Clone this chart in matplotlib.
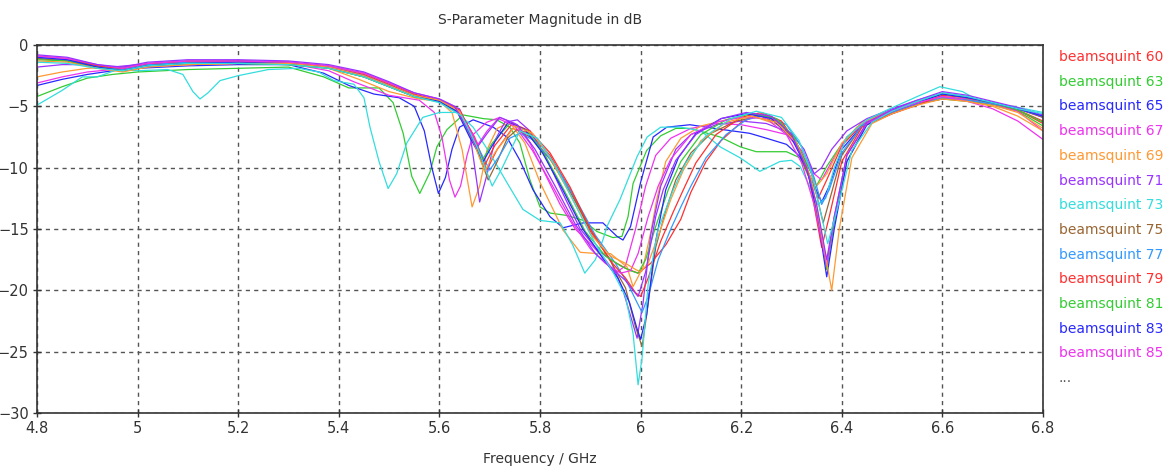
import matplotlib
matplotlib.use("Agg")
import matplotlib.pyplot as plt

# CST style colour cycle
RED, GREEN, BLUE, MAGENTA = '#ff3030', '#33cc33', '#2828ff', '#ee33ee'
ORANGE, PURPLE, CYAN = '#ff9933', '#9933ff', '#33dddd'
BROWN, LIGHTBLUE = '#996633', '#3399ff'

# ---- data ----
f_60 = [4.8, 4.86, 4.92, 4.97, 5.02, 5.1, 5.2, 5.3, 5.38, 5.45, 5.5, 5.55, 5.6, 5.64, 5.67, 5.694, 5.715, 5.745, 5.78, 5.82, 5.86, 5.9, 5.94, 5.97, 5.995, 6.02, 6.05, 6.08, 6.1, 6.13, 6.16, 6.2, 6.24, 6.28, 6.31, 6.335, 6.353, 6.37, 6.4, 6.44, 6.5, 6.55, 6.6, 6.65, 6.7, 6.75, 6.8]
db_60 = [-1.1, -1.3, -1.9, -2.0, -1.6, -1.4, -1.4, -1.5, -1.8, -2.4, -3.2, -4.1, -4.5, -5.4, -7.5, -10.2, -8.5, -6.8, -7.2, -9.0, -11.8, -15.2, -17.5, -18.2, -18.6, -17.8, -16.3, -14.2, -12.0, -9.5, -7.8, -6.3, -5.6, -6.4, -8.2, -10.5, -12.5, -11.0, -8.2, -6.5, -5.5, -4.8, -4.3, -4.4, -4.8, -5.3, -6.2]

f_63 = [4.8, 4.85, 4.9, 4.95, 5.0, 5.1, 5.2, 5.3, 5.37, 5.42, 5.48, 5.508, 5.528, 5.545, 5.561, 5.581, 5.595, 5.615, 5.647, 5.687, 5.714, 5.74, 5.76, 5.78, 5.8, 5.82, 5.854, 5.886, 5.913, 5.945, 5.963, 5.975, 5.985, 6.012, 6.04, 6.07, 6.1, 6.158, 6.198, 6.23, 6.29, 6.317, 6.337, 6.347, 6.37, 6.396, 6.43, 6.462, 6.52, 6.6, 6.65, 6.7, 6.75, 6.8]
db_63 = [-4.2, -3.4, -2.7, -2.4, -2.2, -2.0, -1.9, -1.8, -2.6, -3.5, -3.5, -4.7, -7.2, -10.7, -12.1, -10.4, -8.3, -6.9, -5.7, -6.0, -6.1, -6.7, -8.0, -11.0, -13.2, -13.7, -13.9, -14.3, -15.2, -15.7, -15.6, -14.0, -11.3, -8.6, -7.4, -6.8, -6.8, -7.5, -8.3, -8.7, -8.7, -9.2, -11.0, -11.7, -9.9, -8.3, -6.7, -5.9, -5.0, -4.4, -4.6, -4.9, -5.4, -6.6]

f_65 = [4.8, 4.85, 4.9, 4.95, 5.0, 5.1, 5.2, 5.3, 5.37, 5.42, 5.47, 5.52, 5.55, 5.57, 5.585, 5.598, 5.612, 5.625, 5.64, 5.667, 5.707, 5.734, 5.76, 5.786, 5.82, 5.846, 5.886, 5.925, 5.953, 5.965, 5.98, 6.0, 6.025, 6.052, 6.098, 6.164, 6.217, 6.25, 6.29, 6.317, 6.34, 6.36, 6.375, 6.4, 6.44, 6.5, 6.55, 6.6, 6.65, 6.7, 6.75, 6.8]
db_65 = [-3.3, -2.8, -2.4, -2.1, -1.9, -1.7, -1.6, -1.6, -2.3, -3.3, -4.0, -4.3, -5.0, -7.0, -10.0, -12.1, -10.8, -8.5, -6.7, -6.1, -6.7, -7.5, -9.4, -11.8, -14.0, -14.9, -14.5, -14.5, -15.6, -15.9, -14.8, -11.2, -7.5, -6.7, -6.5, -6.9, -7.2, -7.6, -8.1, -9.1, -11.0, -12.8, -11.5, -8.5, -6.6, -5.6, -4.8, -4.3, -4.5, -4.8, -5.2, -5.8]

f_67 = [4.8, 4.85, 4.9, 4.95, 5.0, 5.1, 5.2, 5.3, 5.38, 5.43, 5.5, 5.56, 5.59, 5.605, 5.62, 5.631, 5.642, 5.655, 5.667, 5.694, 5.72, 5.75, 5.78, 5.81, 5.84, 5.87, 5.9, 5.93, 5.95, 5.97, 5.99, 6.01, 6.03, 6.06, 6.1, 6.15, 6.2, 6.25, 6.29, 6.32, 6.345, 6.36, 6.38, 6.41, 6.45, 6.5, 6.55, 6.6, 6.65, 6.7, 6.75, 6.8]
db_67 = [-3.1, -2.6, -2.2, -2.0, -1.8, -1.6, -1.5, -1.5, -2.1, -3.0, -4.1, -4.5, -5.5, -7.5, -11.0, -12.4, -11.5, -9.0, -7.3, -6.3, -5.9, -6.4, -8.0, -10.5, -13.0, -15.0, -16.2, -17.5, -18.6, -18.0, -15.0, -11.5, -9.0, -7.6, -6.8, -6.4, -6.5, -6.9, -7.3, -8.6, -10.5, -11.0, -9.5, -7.5, -6.2, -5.3, -4.6, -4.2, -4.4, -4.8, -5.4, -7.0]

f_69 = [4.8, 4.85, 4.9, 4.95, 5.0, 5.1, 5.2, 5.3, 5.38, 5.44, 5.5, 5.56, 5.6, 5.625, 5.645, 5.665, 5.68, 5.695, 5.715, 5.74, 5.77, 5.8, 5.826, 5.846, 5.88, 5.913, 5.94, 5.973, 5.985, 6.005, 6.02, 6.032, 6.05, 6.08, 6.12, 6.18, 6.23, 6.28, 6.31, 6.335, 6.35, 6.37, 6.4, 6.44, 6.5, 6.55, 6.6, 6.65, 6.7, 6.75, 6.8]
db_69 = [-2.6, -2.2, -1.9, -1.8, -1.7, -1.6, -1.5, -1.5, -1.9, -2.8, -3.8, -4.4, -4.6, -5.5, -8.5, -13.2, -11.5, -8.5, -6.8, -6.3, -8.0, -11.2, -13.4, -15.1, -16.9, -17.0, -17.0, -18.1, -19.7, -18.1, -15.3, -12.6, -9.5, -7.6, -6.6, -6.0, -5.9, -6.6, -8.0, -10.0, -11.5, -10.5, -8.0, -6.3, -5.4, -4.7, -4.3, -4.5, -4.9, -5.5, -6.8]

f_71 = [4.8, 4.85, 4.9, 4.95, 5.0, 5.1, 5.2, 5.3, 5.38, 5.45, 5.5, 5.55, 5.6, 5.64, 5.66, 5.68, 5.695, 5.71, 5.73, 5.755, 5.78, 5.81, 5.85, 5.88, 5.91, 5.94, 5.965, 5.983, 5.993, 6.005, 6.02, 6.04, 6.07, 6.1, 6.15, 6.2, 6.25, 6.3, 6.325, 6.345, 6.36, 6.38, 6.41, 6.45, 6.5, 6.55, 6.6, 6.65, 6.7, 6.75, 6.8]
db_71 = [-1.8, -1.6, -1.6, -1.8, -1.6, -1.4, -1.3, -1.4, -1.8, -2.6, -3.4, -4.2, -4.6, -5.2, -7.0, -12.8, -10.5, -7.8, -6.3, -6.1, -7.0, -9.0, -12.5, -15.0, -16.5, -17.5, -20.0, -22.5, -23.9, -21.0, -15.5, -11.5, -8.5, -7.3, -6.5, -6.2, -6.4, -7.2, -8.5, -10.5, -10.0, -8.5, -7.0, -6.0, -5.2, -4.5, -3.9, -4.2, -4.7, -5.2, -5.9]

f_73 = [4.8, 4.85, 4.89, 4.92, 4.96, 5.0, 5.06, 5.09, 5.11, 5.124, 5.14, 5.164, 5.2, 5.26, 5.32, 5.36, 5.39, 5.43, 5.45, 5.462, 5.48, 5.498, 5.515, 5.535, 5.567, 5.6, 5.635, 5.667, 5.7, 5.734, 5.766, 5.8, 5.84, 5.865, 5.889, 5.91, 5.925, 5.933, 5.959, 5.993, 6.013, 6.04, 6.08, 6.12, 6.158, 6.198, 6.237, 6.277, 6.3, 6.317, 6.337, 6.352, 6.368, 6.385, 6.41, 6.45, 6.49, 6.55, 6.595, 6.64, 6.675, 6.74, 6.8]
db_73 = [-4.9, -3.7, -2.6, -2.6, -2.0, -2.1, -2.0, -2.4, -3.8, -4.4, -3.9, -2.9, -2.5, -2.0, -1.9, -2.2, -2.9, -3.2, -4.3, -6.7, -9.5, -11.7, -10.5, -8.0, -5.9, -5.5, -5.5, -6.7, -8.8, -11.2, -13.4, -14.3, -14.5, -16.3, -18.6, -17.5, -15.9, -14.8, -12.6, -9.1, -7.5, -6.7, -6.7, -7.0, -8.3, -9.2, -10.3, -9.5, -9.4, -9.9, -11.6, -13.0, -12.5, -10.0, -7.5, -6.1, -5.3, -4.2, -3.4, -3.8, -4.6, -5.0, -5.5]

f_75 = [4.8, 4.86, 4.92, 4.97, 5.02, 5.1, 5.2, 5.3, 5.38, 5.45, 5.5, 5.55, 5.6, 5.64, 5.67, 5.697, 5.715, 5.735, 5.754, 5.78, 5.82, 5.86, 5.9, 5.94, 5.97, 5.99, 6.003, 6.012, 6.03, 6.05, 6.07, 6.1, 6.14, 6.19, 6.24, 6.28, 6.31, 6.34, 6.363, 6.38, 6.4, 6.44, 6.5, 6.55, 6.6, 6.65, 6.7, 6.75, 6.8]
db_75 = [-1.1, -1.2, -1.7, -2.0, -1.6, -1.5, -1.5, -1.6, -1.9, -2.6, -3.4, -4.2, -4.6, -5.6, -8.0, -11.0, -9.5, -7.6, -6.9, -7.5, -9.3, -12.0, -15.0, -17.6, -19.8, -23.0, -24.6, -22.0, -16.5, -13.5, -11.0, -8.8, -7.2, -6.2, -5.8, -6.5, -8.0, -10.5, -14.5, -12.0, -9.0, -6.6, -5.5, -4.8, -4.4, -4.5, -4.8, -5.2, -5.9]

f_77 = [4.8, 4.86, 4.92, 4.97, 5.02, 5.1, 5.2, 5.3, 5.38, 5.45, 5.5, 5.55, 5.6, 5.64, 5.67, 5.7, 5.72, 5.74, 5.76, 5.79, 5.83, 5.87, 5.91, 5.95, 5.975, 5.993, 6.003, 6.015, 6.035, 6.06, 6.08, 6.1, 6.13, 6.17, 6.21, 6.25, 6.29, 6.32, 6.345, 6.36, 6.375, 6.4, 6.44, 6.5, 6.55, 6.6, 6.65, 6.7, 6.75, 6.8]
db_77 = [-1.0, -1.2, -1.8, -2.0, -1.6, -1.4, -1.4, -1.5, -1.8, -2.5, -3.3, -4.2, -4.6, -5.6, -7.8, -10.2, -9.0, -7.6, -7.2, -7.8, -9.8, -12.5, -15.5, -17.8, -19.5, -21.0, -21.8, -20.5, -17.5, -15.0, -13.2, -11.5, -9.2, -7.3, -6.1, -5.7, -6.5, -8.3, -10.8, -13.0, -11.8, -8.8, -6.6, -5.5, -4.8, -4.3, -4.5, -4.8, -5.2, -5.8]

f_79 = [4.8, 4.86, 4.92, 4.97, 5.02, 5.1, 5.2, 5.3, 5.38, 5.45, 5.5, 5.55, 5.6, 5.64, 5.665, 5.69, 5.71, 5.745, 5.78, 5.82, 5.86, 5.9, 5.94, 5.97, 5.99, 6.0, 6.015, 6.04, 6.065, 6.085, 6.11, 6.15, 6.2, 6.24, 6.28, 6.31, 6.335, 6.36, 6.375, 6.4, 6.44, 6.5, 6.55, 6.6, 6.65, 6.7, 6.75, 6.8]
db_79 = [-0.9, -1.1, -1.7, -1.9, -1.5, -1.3, -1.3, -1.4, -1.7, -2.3, -3.1, -4.0, -4.5, -5.3, -7.2, -9.8, -8.2, -6.4, -7.0, -8.8, -11.6, -15.0, -17.6, -19.0, -20.2, -20.5, -19.0, -16.0, -13.6, -11.8, -9.6, -7.3, -5.9, -5.5, -6.2, -8.0, -10.8, -16.5, -14.0, -9.5, -6.7, -5.6, -4.9, -4.1, -4.3, -4.7, -5.3, -6.4]

f_81 = [4.8, 4.86, 4.92, 4.97, 5.02, 5.1, 5.2, 5.3, 5.38, 5.45, 5.5, 5.55, 5.6, 5.635, 5.66, 5.685, 5.705, 5.74, 5.775, 5.81, 5.85, 5.89, 5.93, 5.96, 5.98, 5.995, 6.01, 6.03, 6.055, 6.08, 6.12, 6.17, 6.22, 6.27, 6.305, 6.33, 6.35, 6.37, 6.385, 6.41, 6.45, 6.5, 6.55, 6.6, 6.65, 6.7, 6.75, 6.8]
db_81 = [-1.2, -1.3, -1.8, -2.1, -1.7, -1.5, -1.5, -1.6, -1.9, -2.6, -3.4, -4.2, -4.6, -5.4, -7.3, -9.4, -8.0, -6.4, -7.0, -9.0, -12.0, -15.2, -17.2, -18.0, -18.4, -18.6, -17.5, -14.8, -11.8, -9.5, -7.3, -6.1, -5.6, -6.0, -7.5, -9.8, -13.5, -18.3, -14.5, -9.5, -6.4, -5.4, -4.6, -4.0, -4.3, -4.7, -5.3, -6.3]

f_83 = [4.8, 4.86, 4.92, 4.97, 5.02, 5.1, 5.2, 5.3, 5.38, 5.45, 5.5, 5.55, 5.6, 5.635, 5.66, 5.687, 5.705, 5.737, 5.77, 5.805, 5.845, 5.885, 5.925, 5.955, 5.978, 5.992, 6.0, 6.012, 6.03, 6.05, 6.075, 6.11, 6.16, 6.21, 6.26, 6.3, 6.33, 6.35, 6.37, 6.385, 6.41, 6.45, 6.5, 6.55, 6.6, 6.65, 6.7, 6.75, 6.8]
db_83 = [-1.0, -1.2, -1.8, -2.1, -1.7, -1.5, -1.4, -1.5, -1.8, -2.5, -3.3, -4.1, -4.6, -5.4, -7.5, -9.5, -8.2, -6.3, -6.9, -8.8, -11.8, -15.0, -17.4, -19.0, -21.0, -23.0, -24.0, -22.0, -16.0, -11.8, -9.2, -7.2, -6.0, -5.6, -6.0, -7.6, -10.0, -13.5, -18.9, -15.0, -9.5, -6.5, -5.4, -4.7, -4.0, -4.3, -4.7, -5.2, -5.8]

f_85 = [4.8, 4.86, 4.92, 4.97, 5.02, 5.1, 5.2, 5.3, 5.38, 5.45, 5.5, 5.55, 5.6, 5.63, 5.655, 5.677, 5.695, 5.717, 5.75, 5.785, 5.825, 5.865, 5.9, 5.93, 5.96, 5.98, 5.995, 6.015, 6.035, 6.06, 6.1, 6.15, 6.2, 6.25, 6.29, 6.32, 6.345, 6.37, 6.385, 6.41, 6.45, 6.5, 6.55, 6.6, 6.65, 6.7, 6.75, 6.8]
db_85 = [-0.9, -1.1, -1.6, -1.9, -1.5, -1.3, -1.3, -1.4, -1.7, -2.3, -3.1, -3.9, -4.4, -5.0, -6.5, -8.1, -7.0, -6.0, -6.6, -8.6, -11.5, -14.5, -16.6, -17.8, -18.6, -18.4, -17.0, -14.0, -11.5, -9.3, -7.3, -6.3, -5.9, -6.0, -7.3, -9.6, -13.0, -18.0, -14.0, -9.0, -6.4, -5.4, -4.7, -4.2, -4.6, -5.2, -6.2, -7.7]

# the curves hidden behind "..." in the legend
f_87 = [4.8, 4.86, 4.92, 4.97, 5.02, 5.1, 5.2, 5.3, 5.38, 5.45, 5.5, 5.55, 5.6, 5.64, 5.665, 5.69, 5.71, 5.75, 5.785, 5.82, 5.86, 5.9, 5.94, 5.97, 5.99, 6.0, 6.015, 6.04, 6.06, 6.085, 6.12, 6.17, 6.22, 6.27, 6.31, 6.34, 6.36, 6.38, 6.395, 6.42, 6.46, 6.5, 6.55, 6.6, 6.65, 6.7, 6.75, 6.8]
db_87 = [-1.3, -1.4, -1.9, -2.2, -1.8, -1.6, -1.5, -1.5, -1.8, -2.5, -3.3, -4.1, -4.5, -5.4, -7.6, -10.3, -8.8, -6.6, -7.2, -9.2, -12.2, -15.4, -17.2, -17.8, -18.3, -18.5, -17.8, -15.0, -12.6, -10.2, -7.8, -6.3, -5.8, -6.3, -8.0, -11.0, -15.5, -20.0, -15.0, -9.2, -6.4, -5.6, -4.9, -4.4, -4.6, -5.0, -5.8, -7.0]

f_89 = [4.8, 4.86, 4.92, 4.97, 5.02, 5.1, 5.2, 5.3, 5.38, 5.45, 5.5, 5.55, 5.6, 5.63, 5.655, 5.674, 5.695, 5.72, 5.755, 5.79, 5.83, 5.87, 5.91, 5.945, 5.97, 5.985, 5.995, 6.01, 6.03, 6.045, 6.07, 6.11, 6.16, 6.21, 6.26, 6.3, 6.33, 6.35, 6.37, 6.385, 6.41, 6.45, 6.5, 6.55, 6.6, 6.65, 6.7, 6.75, 6.8]
db_89 = [-0.8, -1.0, -1.6, -1.8, -1.4, -1.2, -1.2, -1.3, -1.6, -2.2, -3.0, -3.9, -4.4, -5.0, -6.8, -8.4, -7.2, -5.9, -6.5, -8.5, -11.5, -14.6, -17.0, -18.3, -19.2, -20.0, -20.5, -18.5, -14.0, -11.8, -9.4, -7.3, -6.0, -5.5, -5.8, -7.3, -10.0, -13.0, -17.5, -14.0, -9.0, -6.3, -5.3, -4.5, -3.8, -4.1, -4.6, -5.1, -5.7]

f_91 = [4.8, 4.86, 4.92, 4.97, 5.02, 5.1, 5.2, 5.3, 5.38, 5.45, 5.5, 5.55, 5.6, 5.645, 5.675, 5.705, 5.725, 5.76, 5.795, 5.83, 5.87, 5.91, 5.945, 5.97, 5.985, 5.995, 6.003, 6.015, 6.035, 6.065, 6.09, 6.13, 6.18, 6.23, 6.28, 6.315, 6.34, 6.36, 6.372, 6.39, 6.42, 6.46, 6.5, 6.55, 6.6, 6.65, 6.7, 6.75, 6.8]
db_91 = [-1.4, -1.5, -1.9, -2.1, -1.7, -1.5, -1.5, -1.6, -1.9, -2.6, -3.4, -4.2, -4.7, -5.8, -8.3, -11.5, -10.0, -7.0, -7.6, -9.8, -13.0, -16.2, -18.5, -20.5, -23.5, -27.7, -25.5, -19.5, -15.0, -11.8, -9.6, -7.4, -6.0, -5.4, -5.9, -7.8, -10.5, -14.0, -16.2, -13.5, -8.6, -6.3, -5.4, -4.6, -3.9, -4.2, -4.7, -5.2, -5.6]

legend_labels = ['beamsquint 60', 'beamsquint 63', 'beamsquint 65', 'beamsquint 67',
                 'beamsquint 69', 'beamsquint 71', 'beamsquint 73', 'beamsquint 75',
                 'beamsquint 77', 'beamsquint 79', 'beamsquint 81', 'beamsquint 83',
                 'beamsquint 85']
legend_colors = [RED, GREEN, BLUE, MAGENTA, ORANGE, PURPLE, CYAN, BROWN, LIGHTBLUE,
                 RED, GREEN, BLUE, MAGENTA]

curves = [
    (f_60, db_60, RED), (f_63, db_63, GREEN), (f_65, db_65, BLUE),
    (f_67, db_67, MAGENTA), (f_69, db_69, ORANGE), (f_71, db_71, PURPLE),
    (f_73, db_73, CYAN), (f_75, db_75, BROWN), (f_77, db_77, LIGHTBLUE),
    (f_79, db_79, RED), (f_81, db_81, GREEN), (f_83, db_83, BLUE),
    (f_85, db_85, MAGENTA), (f_87, db_87, ORANGE), (f_89, db_89, PURPLE),
    (f_91, db_91, CYAN),
]

x_ticks = [4.8, 5.0, 5.2, 5.4, 5.6, 5.8, 6.0, 6.2, 6.4, 6.6, 6.8]
x_tick_labels = ['4.8', '5', '5.2', '5.4', '5.6', '5.8', '6', '6.2', '6.4', '6.6', '6.8']
y_ticks = [0, -5, -10, -15, -20, -25, -30]

fig = plt.figure(figsize=(11.68, 4.70), dpi=100)
ax = fig.add_axes([37 / 1168, 1 - 413 / 470, (1043 - 37) / 1168, (413 - 45) / 470])

for f, db, c in curves:
    ax.plot(f, db, color=c, lw=0.9)

ax.set_xlim(4.8, 6.8)
ax.set_ylim(-30, 0)
ax.set_xticks(x_ticks)
ax.set_xticklabels(x_tick_labels)
ax.set_yticks(y_ticks)
ax.tick_params(direction='inout', length=6, width=1, color='#333333',
               labelsize=10.5, labelcolor='#333333', pad=3)
ax.grid(True, color='#555555', ls=(0, (3, 3)), lw=1.0)
for s in ax.spines.values():
    s.set_color('#333333')
    s.set_linewidth(1.2)

ax.set_title('S-Parameter Magnitude in dB', fontsize=10, color='#333333', pad=15)
ax.set_xlabel('Frequency / GHz', fontsize=10, color='#333333')
ax.xaxis.set_label_coords(0.5, -0.105)

# text-only legend on the right
for i, (lab, c) in enumerate(zip(legend_labels, legend_colors)):
    fig.text(1059 / 1168, 1 - (57 + i * 24.7) / 470, lab, color=c, fontsize=10, va='center')
fig.text(1059 / 1168, 1 - (57 + 13 * 24.7) / 470, '...', color='#555555', fontsize=10, va='center')

fig.savefig('out.png', dpi=100)
